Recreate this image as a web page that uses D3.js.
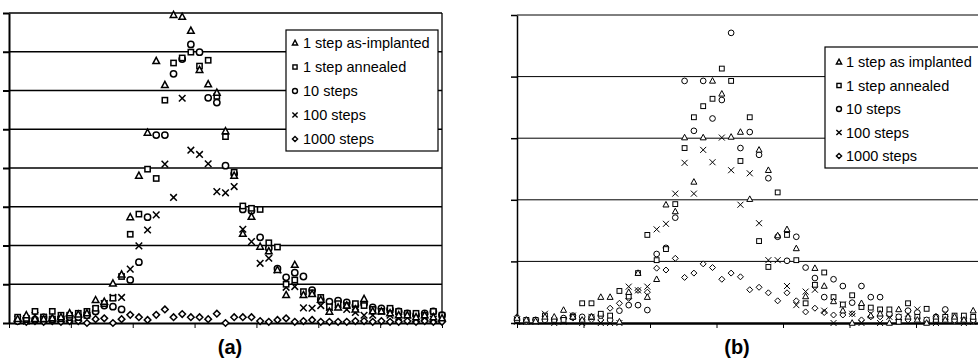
<!DOCTYPE html>
<html><head><meta charset="utf-8">
<script src="https://cdn.jsdelivr.net/npm/d3@7"></script>
<style>body{margin:0;background:#fff}svg{display:block}</style>
</head><body><svg id="c" width="978" height="358"></svg>
<script>
// ---- data ----
const xTicks = [0, 50, 100, 150, 200, 250, 300, 350];
const yTicksA = [0, 1, 2, 3, 4, 5, 6, 7, 8];
const yTicksB = [0, 1, 2, 3, 4, 5];
const seriesNames = ["tri", "sq", "circ", "x", "dia"];
const labelsA = ["1 step as-implanted", "1 step annealed", "10 steps", "100 steps", "1000 steps"];
const labelsB = ["1 step as implanted", "1 step annealed", "10 steps", "100 steps", "1000 steps"];

const depthA = [7,14,21,28,35,42,49,56,63,70,77,84,91,98,105,112,119,126,133,140,147,154,161,168,175,182,189,196,203,210,217,224,231,238,245,252,259,266,273,280,287,294,301,308,315,322,329,336,343,350];
const aTri  = [0.1,0.2,0.1,0.1,0.12,0.15,0.25,0.22,0.25,0.59,0.55,1.02,1.25,2.73,3.8,4.91,6.76,6.14,7.95,7.9,7.54,6.53,6.16,5.94,4.95,3.8,2.3,2.74,1.97,1.85,1.37,0.72,1.5,0.72,0.75,0.6,0.29,0.4,0.45,0.35,0.62,0.3,0.3,0.25,0.2,0.2,0.15,0.2,0.15,0.12];
const aSq   = [0.15,0.12,0.3,0.1,0.3,0.2,0.2,0.25,0.3,0.38,0.5,0.64,1.2,2.29,2.81,3.97,3.73,5.75,6.71,6.84,6.99,6.63,6.78,5.85,4.81,3.89,3.02,2.96,2.93,2.07,1.96,1.0,1.11,0.81,0.78,0.66,0.42,0.5,0.45,0.5,0.45,0.35,0.3,0.38,0.3,0.25,0.25,0.2,0.3,0.2];
const aCirc = [0.05,0.1,0.08,0.15,0.1,0.12,0.15,0.15,0.2,0.3,0.45,0.42,0.35,1.11,1.57,2.73,4.85,4.85,6.43,6.81,7.19,6.99,5.81,5.69,4.06,3.85,2.93,2.9,2.21,1.93,1.4,1.18,1.3,1.2,0.85,0.6,0.55,0.58,0.53,0.45,0.5,0.4,0.38,0.35,0.3,0.25,0.2,0.25,0.3,0.2];
const aX    = [0.1,0.05,0.2,0.15,0.1,0.1,0.1,0.15,0.2,0.35,0.5,0.66,0.66,1.39,1.99,2.4,2.79,4.1,3.24,5.8,4.46,4.35,4.11,3.39,3.36,3.52,2.42,2.1,1.54,1.67,1.37,0.92,0.94,0.39,0.38,0.45,0.4,0.47,0.35,0.27,0.2,0.2,0.3,0.2,0.15,0.2,0.1,0.15,0.1,0.15];
const aDia  = [0.05,0.03,0.05,0.03,0.05,0.03,0.05,0.05,0.0,0.1,0.12,0.0,0.1,0.21,0.15,0.08,0.21,0.35,0.15,0.23,0.15,0.15,0.1,0.24,0.0,0.15,0.15,0.15,0.05,0.03,0.08,0.12,0.03,0.05,0.08,0.03,0.03,0.03,0.03,0.05,0.05,0.03,0.05,0.03,0.03,0.05,0.03,0.05,0.03,0.03];

const depthB = [0,7,14,21,28,35,42,49,56,63,70,77,84,91,98,105,112,119,126,133,140,147,154,161,168,175,182,189,196,203,210,217,224,231,238,245,252,259,266,273,280,287,294,301,308,315,322,329,336,343,350];
const bTri  = [0.08,0.05,0.03,0.1,0.1,0.21,0.1,0.05,0.1,0.42,0.42,0.02,0.5,0.81,0.42,0.71,1.92,1.81,3.01,2.29,3.01,3.93,3.72,3.02,3.1,2.01,2.81,2.48,1.42,1.52,1.21,0.43,0.89,0.6,0.35,0.2,0.0,0.32,0.12,0.15,0.0,0.22,0.1,0.05,0.0,0.1,0.05,0.1,0.05,0.2,0.1];
const bSq   = [0.05,0.05,0.05,0.12,0.05,0.05,0.1,0.32,0.32,0.15,0.12,0.52,0.43,0.81,1.43,1.02,1.2,1.93,2.84,3.34,3.52,3.64,4.13,3.93,2.63,3.34,1.33,0.91,2.12,1.43,1.02,0.32,0.62,0.82,0.42,0.3,0.45,0.26,0.25,0.22,0.22,0.02,0.32,0.1,0.23,0.05,0.1,0.12,0.12,0.1,0.05];
const bCirc = [0.05,0.03,0.05,0.05,0.05,0.08,0.12,0.1,0.1,0.12,0.05,0.2,0.29,0.29,0.21,1.12,1.22,1.71,3.93,3.12,3.93,3.32,3.62,4.71,2.84,3.1,2.73,2.35,1.4,1.01,1.4,0.9,0.73,0.42,0.71,0.6,0.33,0.6,0.42,0.42,0.15,0.1,0.2,0.17,0.05,0.1,0.22,0.05,0.08,0.05,0.03];
const bX    = [0.02,0.02,0.02,0.15,0.0,0.02,0.12,0.0,0.1,0.0,0.0,0.0,0.59,0.53,0.59,1.52,1.61,2.1,2.6,2.1,2.81,2.61,3.01,2.48,1.92,2.43,1.62,1.02,1.02,0.6,0.29,0.51,0.54,0.2,0.0,0.3,0.15,0.0,0.15,0.0,0.1,0.1,0.15,0.22,0.05,0.0,0.15,0.05,0.0,0.02,0.05];
const bDia  = [0.1,0.05,0.05,0.05,0.05,0.08,0.08,0.05,0.05,0.05,0.24,0.32,0.4,0.53,0.5,0.89,0.86,1.05,0.74,0.81,0.96,0.9,0.71,0.81,0.75,0.54,0.58,0.49,0.36,0.49,0.36,0.18,0.24,0.17,0.13,0.13,0.15,0.05,0.1,0.1,0.12,0.05,0.05,0.08,0.03,0.03,0.05,0.03,0.03,0.03,0.03];

// ---- drawing ----
const svg = d3.select("#c");

function drawShape(g, type, cx, cy, s, sw) {
  const common = sel => sel.attr("fill", "#fff").attr("stroke", "#000").attr("stroke-width", sw);
  if (type === "tri") {
    g.append("path").attr("d", `M${cx},${cy - s * 1.1}L${cx + s},${cy + s * 0.75}L${cx - s},${cy + s * 0.75}Z`).call(common);
  } else if (type === "sq") {
    const h = s * 0.8;
    g.append("rect").attr("x", cx - h).attr("y", cy - h).attr("width", 2 * h).attr("height", 2 * h).call(common);
  } else if (type === "circ") {
    g.append("circle").attr("cx", cx).attr("cy", cy).attr("r", s * 0.95).call(common);
  } else if (type === "x") {
    g.append("path").attr("d", `M${cx - s},${cy - s}L${cx + s},${cy + s}M${cx - s},${cy + s}L${cx + s},${cy - s}`)
      .attr("fill", "none").attr("stroke", "#000").attr("stroke-width", sw);
  } else if (type === "dia") {
    g.append("path").attr("d", `M${cx},${cy - s}L${cx + s},${cy}L${cx},${cy + s}L${cx - s},${cy}Z`).call(common);
  }
}

function panel(cfg) {
  const x = d3.scaleLinear().domain([0, 350]).range([cfg.left, cfg.right]);
  const y = d3.scaleLinear().domain([0, cfg.yMax]).range([cfg.bottom, cfg.top]);
  const g = svg.append("g");

  // gridlines
  g.append("g").selectAll("line").data(cfg.yTicks.filter(v => v > 0)).join("line")
    .attr("x1", cfg.left).attr("x2", cfg.right).attr("y1", d => y(d)).attr("y2", d => y(d))
    .attr("stroke", "#000").attr("stroke-width", cfg.gridW);
  // right border
  g.append("line").attr("x1", cfg.right).attr("x2", cfg.right).attr("y1", cfg.top).attr("y2", cfg.bottom)
    .attr("stroke", "#000").attr("stroke-width", cfg.gridW);

  // axes
  const yAxis = g.append("g").attr("transform", `translate(${cfg.left},0)`)
    .call(d3.axisLeft(y).tickValues(cfg.yTicks).tickSize(6).tickFormat("").tickSizeOuter(0));
  yAxis.selectAll("path,line").attr("stroke", "#000").attr("stroke-width", cfg.axisW);
  const xAxis = g.append("g").attr("transform", `translate(0,${cfg.bottom})`)
    .call(d3.axisBottom(x).tickValues(xTicks).tickSize(5).tickFormat("").tickSizeOuter(0));
  xAxis.selectAll("path").attr("stroke", "#000").attr("stroke-width", cfg.bottomW);
  xAxis.selectAll("line").attr("stroke", "#000").attr("stroke-width", 1);

  // markers (diamonds first, triangles last)
  const order = [4, 3, 2, 1, 0];
  order.forEach(si => {
    const type = seriesNames[si];
    const vals = cfg.series[si];
    const mg = g.append("g");
    vals.forEach((v, i) => {
      if (v == null) return;
      drawShape(mg, type, x(cfg.depth[i]), y(v), cfg.ms, cfg.msw);
    });
  });

  // legend
  const L = cfg.legend;
  g.append("rect").attr("x", L.x).attr("y", L.y).attr("width", L.w).attr("height", L.h)
    .attr("fill", "#fff").attr("stroke", "#000").attr("stroke-width", 1.2);
  cfg.labels.forEach((lab, i) => {
    const cy = L.y0 + i * L.dy;
    drawShape(g, seriesNames[i], L.mx, cy, L.ms, 1.4);
    g.append("text").attr("x", L.tx).attr("y", cy + 5).text(lab)
      .attr("font-family", "Liberation Sans, Arial, Helvetica, sans-serif").attr("font-size", L.fs).attr("fill", "#000");
  });

  // caption
  svg.append("text").attr("x", cfg.capX).attr("y", 354).attr("text-anchor", "middle")
    .attr("font-family", "Liberation Sans, Arial, Helvetica, sans-serif").attr("font-weight", "bold")
    .attr("font-size", 20).text(cfg.caption);
}

panel({
  left: 9, right: 442, top: 13, bottom: 323, yMax: 8, yTicks: yTicksA, depth: depthA,
  series: [aTri, aSq, aCirc, aX, aDia], labels: labelsA,
  gridW: 1.3, axisW: 2, bottomW: 2, ms: 3.3, msw: 1.5,
  legend: { x: 286, y: 30, w: 152, h: 121, y0: 43, dy: 24, mx: 295, tx: 303, ms: 2.6, fs: 14.5 },
  capX: 230, caption: "(a)"
});
panel({
  left: 517, right: 982.5, top: 15, bottom: 323, yMax: 5, yTicks: yTicksB, depth: depthB,
  series: [bTri, bSq, bCirc, bX, bDia], labels: labelsB,
  gridW: 1, axisW: 1.5, bottomW: 2.5, ms: 3, msw: 1,
  legend: { x: 825, y: 47, w: 170, h: 121, y0: 62, dy: 23.5, mx: 839, tx: 846, ms: 2.6, fs: 14.5 },
  capX: 737, caption: "(b)"
});
</script>
</body></html>
